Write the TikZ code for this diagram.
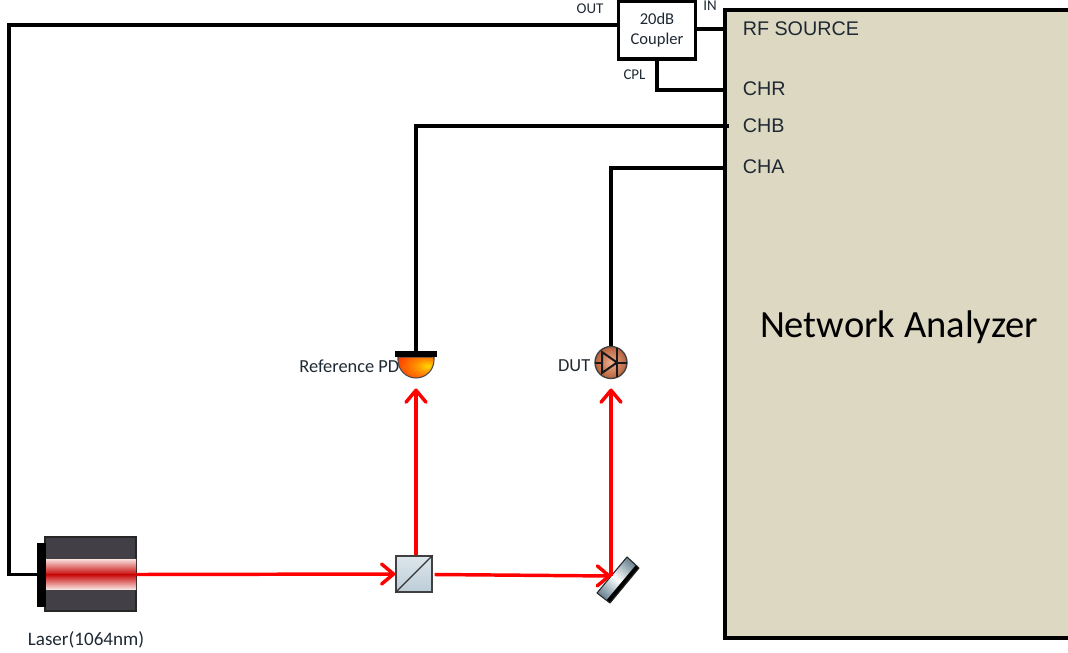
\documentclass[tikz,border=0pt]{standalone}
\usepackage{fontspec}
\setmainfont{Carlito}
\newfontfamily\arial{Liberation Sans}
\usetikzlibrary{arrows.meta,calc}
\definecolor{nafill}{HTML}{DDD8C2}
\definecolor{laserdark}{HTML}{433F46}
\definecolor{txt}{HTML}{1F2933}
\definecolor{bstop}{HTML}{DDE6EC}
\definecolor{bsbot}{HTML}{BCCDD8}
\definecolor{mirrorend}{HTML}{6F8796}
\definecolor{dutin}{HTML}{EDAE8E}
\definecolor{dutout}{HTML}{B5603A}
\definecolor{laserred}{HTML}{C80A0A}
\definecolor{laserpale}{HTML}{F8E0DC}
\pgfdeclareradialshading{pdshade}{\pgfpoint{17bp}{4bp}}{
  color(0bp)=(yellow!70!orange);
  color(16bp)=(orange!90!yellow);
  color(40bp)=(red!55!orange);
  color(60bp)=(red!80!black);
  color(100bp)=(red!75!black)}
\tikzset{
  wire/.style={line width=2.6pt,black,line join=miter},
  beam/.style={line width=2.6pt,red,-{Straight Barb[length=9pt,width=15pt,line width=2.6pt,round]}},
  lab/.style={text=txt,inner sep=0pt,font=\fontsize{13.8pt}{15pt}\selectfont},
  small/.style={text=txt,inner sep=0pt,font=\fontsize{11.2pt}{13pt}\selectfont},
  portlab/.style={text=txt,inner sep=0pt,anchor=west,font=\arial\fontsize{14.8pt}{16pt}\selectfont},
}
\begin{document}
\begin{tikzpicture}[x=0.75pt,y=-0.75pt]
\useasboundingbox (0,0) rectangle (1068,653);
% Network analyzer
\fill[nafill] (725,10) rectangle (1068,638);
\draw[wire] (1068,10) -- (725,10) -- (725,638) -- (1068,638);
\coordinate (na-in) at (725,29);
\coordinate (na-chr) at (725,90);
\coordinate (na-chb) at (729,126);
\coordinate (na-cha) at (725,168);
\node[portlab] (rf) at (742.5,28.5) {RF SOURCE};
\node[portlab] (chr) at (742.5,88.5) {CHR};
\node[portlab] (chb) at (742.5,125.5) {CHB};
\node[portlab] (cha) at (742.5,166.5) {CHA};
\node[text=black,inner sep=0pt,font=\fontsize{28.9pt}{30pt}\selectfont] (na) at (899,327.5) {Network Analyzer};
% Coupler
\node[draw,line width=2.6pt,fill=white,minimum width=58pt,minimum height=43.5pt,inner sep=0pt,align=center,text=txt,font=\fontsize{12.4pt}{15.5pt}\selectfont] (coupler) at (657,30) {20dB\\Coupler};
\node[small] (out) at (590,8.5) {OUT};
\node[small] (in) at (710,6) {IN};
\node[small] (cpl) at (634.5,74.5) {CPL};
% Laser
\fill[laserdark] (45,537) rectangle (136,611);
\draw[black!85,line width=0.8pt] (45,537) rectangle (136,611);
\shade[top color=laserpale,bottom color=laserred] (46,559) rectangle (136,574.5);
\shade[top color=laserred,bottom color=laserpale] (46,574.5) rectangle (136,589);
\node[fill=black,inner sep=0pt,minimum width=6.75pt,minimum height=48pt] (laserback) at (41.5,574.5) {};
\node[inner sep=0pt,minimum size=0pt] (laser) at (136,574.5) {};
\node[lab,font=\fontsize{14.3pt}{15pt}\selectfont] (laserlab) at (86,640) {Laser(1064nm)};
\coordinate (corner) at (9,25);
\coordinate (cornerb) at (9,574.5);
% Splitter
\node[draw=black!75,line width=1pt,inner sep=0pt,minimum size=27pt,top color=bstop,bottom color=bsbot] (bs) at (414,574) {};
\draw[black!80,line width=0.9pt] (bs.south west) -- (bs.north east);
% Mirror
\shade[top color=mirrorend,bottom color=mirrorend,middle color=white,shading angle=-40]
  (627,557) -- (639,568) -- (610,603) -- (597,593) -- cycle;
\fill[black] (639,568) -- (610,603) -- (606.5,600.2) -- (635.8,565.2) -- cycle;
\draw[black!85,line width=0.8pt,line join=round] (627,557) -- (639,568) -- (610,603) -- (597,593) -- cycle;
\coordinate (mirror) at (611,576);
% Reference PD
\node[lab,anchor=east] (pdlab) at (399.5,366) {Reference PD};
\shade[shading=pdshade,draw=black!70,line width=0.8pt] (398,357) -- (398,360) arc[start angle=180,end angle=0,radius=18] -- (434,357) -- cycle;
\node[fill=black,inner sep=0pt,minimum width=31pt,minimum height=4.6pt] (pd) at (416,354) {};
\coordinate (pdin) at (416,388.5);
% DUT
\node[circle,draw=black!75,line width=1pt,inner sep=0pt,minimum size=24pt,inner color=dutin,outer color=dutout] (dut) at (611,362.5) {};
\draw[black!90,line width=1.5pt,line join=miter] (602,352) -- (602,373) -- (617,362.5) -- cycle;
\draw[black!90,line width=1.5pt] (617,348) -- (617,377);
\draw[black!90,line width=1.5pt] (595,362.5) -- (602,362.5) (617,362.5) -- (627,362.5);
\node[lab,anchor=east] (dutlab) at (590.5,366) {DUT};
\coordinate (dutarrow) at (611,388.5);
% Wires
\draw[wire] (laserback.west) -- (cornerb) -- (corner) -- (coupler.west |- corner);
\draw[wire] (coupler.east |- na-in) -- (na-in);
\draw[wire] (coupler.south) |- (na-chr);
\draw[wire] (pd.north) |- (na-chb);
\draw[wire] (dut.north) |- (na-cha);
% Beams
\draw[beam] (laser.east) -- (bs.west);
\draw[beam] (pdin |- bs.north) -- (pdin);
\draw[beam] (bs.east) ++(2,0.5) -- (mirror);
\draw[beam] (mirror) -- (dutarrow);
\end{tikzpicture}
\end{document}
